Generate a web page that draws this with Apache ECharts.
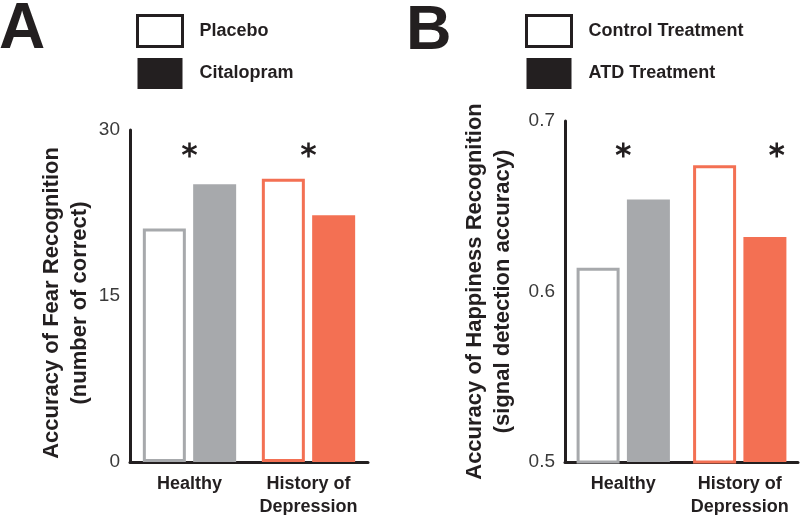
<!DOCTYPE html>
<html>
<head>
<meta charset="utf-8">
<script src="https://cdn.jsdelivr.net/npm/echarts@6/dist/echarts.min.js"></script>
<style>html,body{margin:0;padding:0;background:#fff}#c{width:800px;height:515px}</style>
</head>
<body>
<div id="c"></div>
<script>
// ---- data ----
const categories = ['Healthy', 'History of\nDepression'];
// Panel A: Accuracy of Fear Recognition (number of correct)
const placeboA = [21.1, 25.6];
const citalopramA = [25.1, 22.3];
const ticksA = { min: 0, max: 30, interval: 15 };
const starLevelA = [28.2, 28.2];
// Panel B: Accuracy of Happiness Recognition (signal detection accuracy)
const controlB = [0.614, 0.674];
const atdB = [0.654, 0.632];
const ticksB = { min: 0.5, max: 0.7, interval: 0.1 };
const starLevelB = [0.683, 0.683];

// ---- styles ----
const groupColors = ['#a7a9ac', '#f37053'];
const dark = '#231f20';
const FONT = '"Liberation Sans", Arial, Helvetica, sans-serif';

function outlined(vals) {
  return vals.map((v, i) => ({ value: v, itemStyle: { borderColor: groupColors[i] } }));
}
function filled(vals) {
  return vals.map((v, i) => ({ value: v, itemStyle: { color: groupColors[i] } }));
}
const starPath = 'path://M0,-1L0,1M-0.866,-0.5L0.866,0.5M-0.866,0.5L0.866,-0.5';

const chart = echarts.init(document.getElementById('c'), null, { renderer: 'canvas' });

const xAxisCommon = {
  type: 'category',
  data: categories,
  axisLine: { lineStyle: { color: dark, width: 3 } },
  axisTick: { show: false },
  axisLabel: { interval: 0, fontFamily: FONT, fontWeight: 'bold', fontSize: 18, color: dark, margin: 11, lineHeight: 23 },
  splitLine: { show: false }
};
const yAxisCommon = {
  type: 'value',
  axisLine: { show: true, lineStyle: { color: dark, width: 3 } },
  axisTick: { show: false },
  splitLine: { show: false },
  nameLocation: 'middle',
  nameRotate: 90,
  nameTextStyle: { fontFamily: FONT, fontWeight: 'bold', fontSize: 22, color: dark, lineHeight: 28 },
  axisLabel: { fontFamily: FONT, fontSize: 19, color: '#3a3a3a', margin: 10 }
};

const legendCommon = {
  orient: 'vertical',
  icon: 'rect',
  itemWidth: 45,
  itemHeight: 31,
  itemGap: 10,
  padding: 0,
  selectedMode: false,
  textStyle: { fontFamily: FONT, fontWeight: 'bold', fontSize: 18, color: dark, padding: [0, 0, 0, 12] }
};

const option = {
  animation: false,
  backgroundColor: '#fff',
  graphic: [
    { type: 'text', left: -1, top: -2, style: { text: 'A', fontFamily: FONT, fontWeight: 'bold', fontSize: 64, fill: dark } },
    { type: 'text', left: 406, top: 0, style: { text: 'B', fontFamily: FONT, fontWeight: 'bold', fontSize: 63, fill: dark } }
  ],
  legend: [
    Object.assign({}, legendCommon, {
      left: 136, top: 14,
      data: [{ name: 'Placebo', itemStyle: { borderWidth: 3 } }, { name: 'Citalopram' }]
    }),
    Object.assign({}, legendCommon, {
      left: 525, top: 14,
      data: [{ name: 'Control Treatment', itemStyle: { borderWidth: 3 } }, { name: 'ATD Treatment' }]
    })
  ],
  grid: [
    { left: 130, top: 130, right: 432, bottom: 53, containLabel: false, outerBoundsMode: 'none' },
    { left: 565, top: 121, right: 2, bottom: 53, containLabel: false, outerBoundsMode: 'none' }
  ],
  xAxis: [
    Object.assign({ gridIndex: 0 }, xAxisCommon),
    Object.assign({ gridIndex: 1 }, xAxisCommon)
  ],
  yAxis: [
    Object.assign({}, yAxisCommon, {
      gridIndex: 0, min: ticksA.min, max: ticksA.max, interval: ticksA.interval,
      name: 'Accuracy of Fear Recognition\n(number of correct)', nameGap: 36,
      nameTextStyle: Object.assign({}, yAxisCommon.nameTextStyle, { padding: [0, 14, 0, 0] })
    }),
    Object.assign({}, yAxisCommon, {
      gridIndex: 1, min: ticksB.min, max: ticksB.max, interval: ticksB.interval,
      name: 'Accuracy of Happiness Recognition\n(signal detection accuracy)', nameGap: 48,
      axisLabel: Object.assign({}, yAxisCommon.axisLabel, { formatter: v => v.toFixed(1) })
    })
  ],
  series: [
    {
      name: 'Placebo', type: 'bar', xAxisIndex: 0, yAxisIndex: 0,
      barWidth: 43, barGap: '17%',
      itemStyle: { color: '#fff', borderColor: dark, borderWidth: 3 },
      data: outlined(placeboA)
    },
    {
      name: 'Citalopram', type: 'bar', xAxisIndex: 0, yAxisIndex: 0,
      barWidth: 43, barGap: '17%',
      itemStyle: { color: dark },
      data: filled(citalopramA)
    },
    {
      name: 'Control Treatment', type: 'bar', xAxisIndex: 1, yAxisIndex: 1,
      barWidth: 43, barGap: '17%',
      itemStyle: { color: '#fff', borderColor: dark, borderWidth: 3 },
      data: outlined(controlB)
    },
    {
      name: 'ATD Treatment', type: 'bar', xAxisIndex: 1, yAxisIndex: 1,
      barWidth: 43, barGap: '17%',
      itemStyle: { color: dark },
      data: filled(atdB)
    },
    {
      type: 'scatter', xAxisIndex: 0, yAxisIndex: 0, silent: true,
      symbol: starPath, symbolSize: [14, 15],
      itemStyle: { color: 'none', borderColor: dark, borderWidth: 2.6, opacity: 1 },
      data: starLevelA.map((v, i) => [categories[i], v])
    },
    {
      type: 'scatter', xAxisIndex: 1, yAxisIndex: 1, silent: true,
      symbol: starPath, symbolSize: [14, 15],
      itemStyle: { color: 'none', borderColor: dark, borderWidth: 2.6, opacity: 1 },
      data: [
        { value: [categories[0], starLevelB[0]] },
        { value: [categories[1], starLevelB[1]], symbolOffset: [37, 0] }
      ]
    }
  ]
};
chart.setOption(option);
</script>
</body>
</html>
